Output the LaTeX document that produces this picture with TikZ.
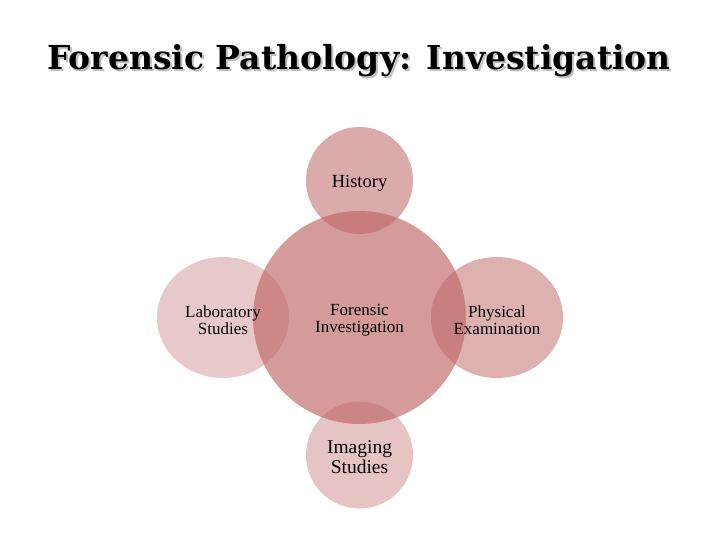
\documentclass[tikz,border=0pt]{standalone}
\usepackage{fontspec}
\setmainfont{Liberation Serif}
\newfontfamily\titlefont{DejaVu Serif}
\usetikzlibrary{shapes.geometric}
\definecolor{rose}{RGB}{190,100,100}
\tikzstyle{every node}=[inner sep=0pt, align=center]
\tikzset{blob/.style={circle, fill=rose, fill opacity=#1},
  oval/.style={ellipse, fill=rose, fill opacity=#1,
      minimum width=132pt, minimum height=121pt},
  lbl/.style={font=\fontsize{17}{17}\selectfont, yshift=-2.5pt}}

\begin{document}
\begin{tikzpicture}[x=1pt, y=-1pt]
    \useasboundingbox (0,0) rectangle (720,540);
    % title with its shadow
    \node[anchor=base, text=black!25, font=\titlefont\bfseries\fontsize{33}{36}\selectfont] (shade) at (361,72) {Forensic Pathology: Investigation};
    \node[anchor=base, font=\titlefont\bfseries\fontsize{33}{36}\selectfont] (title) at (359,70) {Forensic Pathology: Investigation};
    % circles
    \node[blob=0.65, minimum size=213pt] (fi) at (359.5,317.5) {};
    \node[blob=0.55, minimum size=107pt] (hist) at (359.5,180.5) {};
    \node[blob=0.38, minimum size=107pt] (img) at (359.5,455) {};
    \node[oval=0.35] (lab) at (223,317.5) {};
    \node[oval=0.5] (phys) at (497,317.5) {};
    % texts
    \node[lbl, font=\fontsize{18.5}{20}\selectfont] (histtxt) at (hist) {History};
    \node[lbl] (fitxt) at (fi) {Forensic\\Investigation};
    \node[lbl] (labtxt) at (lab) {Laboratory\\Studies};
    \node[lbl] (phystxt) at (phys) {Physical\\Examination};
    \node[lbl, font=\fontsize{19.5}{20}\selectfont] (imgtxt) at (img) {Imaging\\Studies};
\end{tikzpicture}
\end{document}
